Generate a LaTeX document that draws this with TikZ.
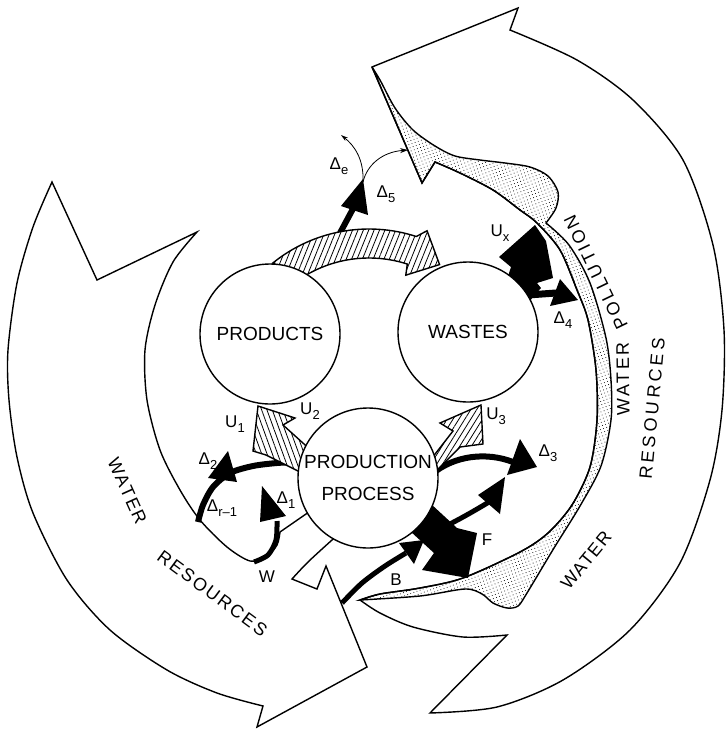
\documentclass[tikz,border=0pt]{standalone}
\usepackage{fontspec}
\setmainfont{Liberation Sans}
\usetikzlibrary{arrows.meta, patterns.meta, calc}

\newcommand{\lowsub}[1]{\raisebox{-0.5ex}{\fontsize{13}{13}\selectfont #1}}

\begin{document}
\begin{tikzpicture}[
x=1pt, y=-1pt,
outline/.style={draw, line width=1.4pt, line join=miter},
flow/.style={outline, fill=white},
stipple/.style={pattern={Dots[radius=0.5pt, distance=3.3pt, angle=20]}},
hatch/.style={outline, preaction={fill=white},
  pattern={Lines[angle=#1, distance=5pt, line width=0.8pt]}},
stream/.style={line width=#1},
stock/.style={circle, draw, line width=1.4pt, fill=white,
  minimum size=140pt, inner sep=0pt, align=center,
  font=\fontsize{19}{23}\selectfont},
lbl/.style={inner sep=0pt, font=\fontsize{17}{19}\selectfont},
word/.style={inner sep=0pt, font={\fontsize{18}{18}\selectfont\addfontfeatures{LetterSpace=#1}}},
>=Stealth
]
\useasboundingbox (0,0) rectangle (726,729);
\coordinate (hc) at (369,382);

% water resources, right arrow
\draw[flow] (372,67) -- (518,8) -- (510,30)
  -- plot[smooth] coordinates {(510,30) (577,60) (633,100) (683,160) (713,245) (724,330) (722,410) (710,480) (680,563) (630,630) (563,680) (497,707) (430,713)}
  -- (507,635)
  -- plot[smooth] coordinates {(507,635) (463,637) (413,627) (380,613) (360,600)}
  -- plot[smooth] coordinates {(360,600) (380,594) (420,588) (463,578) (520,552) (548,533) (572,505) (590,467) (597,420) (596,370) (588,320) (577,290) (560,250) (537,223) (520,210) (493,190) (460,173) (435,162)}
  -- (422,183) -- cycle;

% water pollution band
\draw[outline, stipple] (372,67) -- (422,183) -- (435,162)
  -- plot[smooth] coordinates {(435,162) (460,173) (493,190) (520,210) (537,223) (560,250) (577,290) (588,320) (596,370) (597,420) (590,467) (572,505) (548,533) (520,552) (463,578) (420,588) (380,594) (360,600)}
  -- plot[smooth] coordinates {(360,600) (420,596) (465,589) (482,594) (493,603) (507,608) (518,606) (527,593) (554,548) (580,506) (601,466) (611,420) (611,380) (606,338) (590,283) (569,245) (546,223)}
  -- plot[smooth] coordinates {(546,223) (556,208) (558,192) (548,176) (530,167) (505,163) (480,160) (455,156) (435,146) (413,130) (395,108) (380,80) (372,67)}
  -- cycle;

% water resources, left arrow
\draw[flow] (52,182) -- (97,280) -- (197,232)
  -- plot[smooth] coordinates {(197,232) (173,262) (155,305) (145,350) (147,400) (160,450) (180,490) (200,520) (227,547) (250,561) (266,557) (277,545) (280,532)}
  -- (306,514) -- (335,500) -- (345,530) -- (332,540)
  -- plot[smooth] coordinates {(332,540) (308,562) (292,579)}
  -- (317,589) -- (326,566) -- (367,667) -- (257,727) -- (263,706)
  -- plot[smooth] coordinates {(263,706) (217,693) (167,670) (110,630) (67,580) (33,513) (17,457) (9,400) (8,350) (17,283) (33,227) (52,182)}
  -- cycle;

% returns and losses
\draw[stream=6pt] plot[smooth] coordinates {(298,462) (277,463) (253,466) (230,473) (213,487) (203,505) (198,522)};
\fill (228,451) -- (208,478) -- (237,482) -- cycle;
\draw[stream=5pt] plot[smooth] coordinates {(254,562) (268,555) (276,540) (277,521)};
\fill (262,486) -- (260,522) -- (286,516) -- cycle;
\draw[stream=5pt] plot[smooth] coordinates {(342,603) (362,583) (385,566) (406,553)};
\fill (424,540) -- (399,543) -- (414,564) -- cycle;
\draw[stream=6pt] (432,474) .. controls (455,455) and (487,452) .. (513,462);
\fill (520,439) -- (537,467) -- (507,475) -- cycle;
\fill (418,492) -- (457,528) -- (477,533) -- (468,578) -- (422,570) -- (434,553) -- (398,520) -- cycle;
\draw[stream=5pt] (446,526) .. controls (460,519) and (474,511) .. (489,502);
\fill (505,477) -- (478,495) -- (500,514) -- cycle;
\fill (535,225) -- (499,257) -- (511,267) -- (503,292) -- (528,303) -- (541,288) -- (537,283) -- (553,278) -- (546,241) -- cycle;
\draw[stream=7pt] (528,295) -- (556,293);
\fill (560,279) -- (578,300) -- (550,306) -- cycle;
\draw[stream=6pt] (340,233) -- (355,205);
\fill (363,179) -- (341,206) -- (368,215) -- cycle;
\coordinate (split) at (363,182);
\coordinate (exp) at (341,135);
\coordinate (spill) at (408,150);
\draw[line width=0.8pt, -{Stealth[length=7pt, width=4pt]}] (split) .. controls (364,160) and (355,146) .. (exp);
\draw[line width=0.8pt, -{Stealth[length=8pt, width=5pt]}] (split) .. controls (367,165) and (382,152) .. (spill);

% hatched flows
\draw[hatch=68] ($(hc)+(-129:153)$) arc[start angle=129, end angle=72, radius=153pt]
  -- ($(hc)+(-69:162)$) -- ($(hc)+(-59:137)$) -- ($(hc)+(-71:113)$) -- ($(hc)+(-72:124)$)
  arc[start angle=72, end angle=122, radius=124pt] -- cycle;
\draw[hatch=110] (304,474) -- (266,455) -- (253,451) -- (258,406) -- (295,418) -- (283,425) -- (314,453) -- cycle;
\draw[hatch=58] (430,477) -- (460,447) -- (483,444) -- (481,405) -- (440,423) -- (453,431) -- (425,467) -- cycle;

% stocks
\node[stock] (products) at (270,334) {PRODUCTS};
\node[stock] (wastes) at (468,332) {WASTES};
\node[stock] (process) at (368,478) {PRODUCTION\\[9pt]PROCESS};

% labels
\node[lbl] (de) at (339,166) {Δ\lowsub{e}};
\node[lbl] (d5) at (386,194) {Δ\lowsub{5}};
\node[lbl] (ux) at (500,233) {U\lowsub{x}};
\node[lbl] (d4) at (563,320) {Δ\lowsub{4}};
\node[lbl] (u1) at (235,424) {U\lowsub{1}};
\node[lbl] (u2) at (310,411) {U\lowsub{2}};
\node[lbl] (u3) at (496,416) {U\lowsub{3}};
\node[lbl] (d2) at (208,461) {Δ\lowsub{2}};
\node[lbl] (dr) at (222,508) {Δ\lowsub{r–1}};
\node[lbl] (d1) at (286,500) {Δ\lowsub{1}};
\node[lbl] (d3) at (548,453) {Δ\lowsub{3}};
\node[lbl] (f) at (487,540) {F};
\node[lbl] (b) at (396,580) {B};
\node[lbl] (w) at (267,577) {W};

% curved captions
\node[word=11, rotate=-65.75] (lwater) at ($(hc)+(155.75:265)$) {WATER};
\node[word=12, rotate=-36.55] (lres) at ($(hc)+(126.55:263)$) {RESOURCES};
\node[word=8, rotate=50.6] (rwater) at ($(hc)+(39.4:281)$) {WATER};
\node[word=19, rotate=84.6] (rres) at ($(hc)+(5.4:284.5)$) {RESOURCES};
\node[word=14, rotate=90.7] (pwater) at ($(hc)+(-0.7:254)$) {WATER};
\node[word=15, rotate=115.8] (poll) at ($(hc)+(-25.8:252)$) {POLLUTION};
\end{tikzpicture}
\end{document}
